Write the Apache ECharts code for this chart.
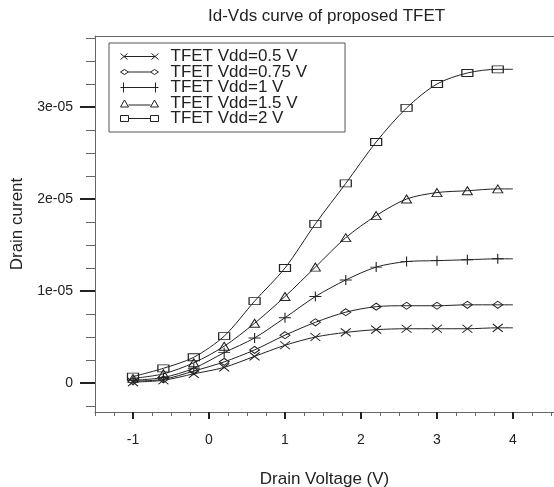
<!DOCTYPE html>
<html>
<head>
<meta charset="utf-8">
<script src="https://cdn.jsdelivr.net/npm/echarts@6/dist/echarts.min.js"></script>
<style>
  html, body { margin: 0; padding: 0; background: #fff; }
  #chart { width: 554px; height: 487px; }
</style>
</head>
<body>
<div id="chart"></div>
<script>
// drain voltage (V); markers drawn up to 3.8, curve runs to 4
const vds = [-1, -0.6, -0.2, 0.2, 0.6, 1.0, 1.4, 1.8, 2.2, 2.6, 3.0, 3.4, 3.8, 4.0];

// drain current, in units of 1e-05
const idVdd05  = [0.01, 0.03, 0.10, 0.17, 0.29, 0.41, 0.50, 0.55, 0.58, 0.59, 0.59, 0.59, 0.60, 0.60];
const idVdd075 = [0.02, 0.04, 0.13, 0.23, 0.36, 0.52, 0.66, 0.77, 0.83, 0.84, 0.84, 0.85, 0.85, 0.85];
const idVdd1   = [0.03, 0.06, 0.16, 0.33, 0.49, 0.71, 0.94, 1.12, 1.26, 1.32, 1.33, 1.34, 1.35, 1.35];
const idVdd15  = [0.05, 0.10, 0.22, 0.40, 0.65, 0.94, 1.26, 1.58, 1.82, 2.00, 2.07, 2.09, 2.11, 2.11];
const idVdd2   = [0.07, 0.16, 0.28, 0.51, 0.89, 1.25, 1.73, 2.17, 2.62, 2.99, 3.25, 3.37, 3.41, 3.41];

const seriesNames = ['TFET Vdd=0.5 V', 'TFET Vdd=0.75 V', 'TFET Vdd=1 V', 'TFET Vdd=1.5 V', 'TFET Vdd=2 V'];

// tick positions
const xMajorTicks = [-1, 0, 1, 2, 3, 4];
const xMinorTicks = [-1.5, -1.25, -0.75, -0.5, -0.25, 0.25, 0.5, 0.75, 1.25, 1.5, 1.75,
  2.25, 2.5, 2.75, 3.25, 3.5, 3.75, 4.25, 4.5];
const yMajorTicks = [0, 1, 2, 3];
const yMinorTicks = [-0.25, 0.25, 0.5, 0.75, 1.25, 1.5, 1.75, 2.25, 2.5, 2.75, 3.25, 3.5, 3.75];

const SCALE = 1e-5;
const FONT = 'Liberation Sans, Arial, sans-serif';
const INK = '#222';

const chart = echarts.init(document.getElementById('chart'));

const markers = [
  { symbol: 'path://M0,0L10,10M0,10L10,0', size: [10, 8] },
  { symbol: 'diamond', size: [10, 7] },
  { symbol: 'path://M0,5L10,5M5,0L5,10', size: [12, 10] },
  { symbol: 'triangle', size: [10, 8] },
  { symbol: 'rect', size: [11, 7] }
];

// legend icons: short line with a marker at each end
const box = 'M0,0L0,0M38,10L38,10';
const legendIcons = [
  'path://' + box + 'M0,2L7,8M0,8L7,2M3.5,5L34.5,5M31,2L38,8M31,8L38,2',
  'path://' + box + 'M0,5L4,2.5L8,5L4,7.5ZM8,5L30,5M30,5L34,2.5L38,5L34,7.5Z',
  'path://' + box + 'M0,5L38,5M3,0L3,10M35,0L35,10',
  'path://' + box + 'M0,9L4,2L8,9ZM8,7L30,7M30,9L34,2L38,9Z',
  'path://' + box + 'M0,2H8V8H0ZM8,5H30M30,2H38V8H30Z'
];

const allValues = [idVdd05, idVdd075, idVdd1, idVdd15, idVdd2];

const series = allValues.map((vals, i) => ({
  name: seriesNames[i],
  type: 'line',
  smooth: 0.3,
  showSymbol: true,
  showAllSymbol: true,
  symbol: markers[i].symbol,
  symbolSize: (val) => (val[0] >= 4 ? 0 : markers[i].size),
  lineStyle: { color: INK, width: 1 },
  itemStyle: { color: 'transparent', borderColor: INK, borderWidth: 1 },
  emphasis: { disabled: true },
  animation: false,
  data: vds.map((x, k) => [x, vals[k] * SCALE])
}));

const option = {
  backgroundColor: '#fff',
  textStyle: { fontFamily: FONT },
  title: {
    text: 'Id-Vds curve of proposed TFET',
    left: 203,
    top: 3,
    textStyle: { fontFamily: FONT, fontSize: 17, fontWeight: 'normal', color: INK }
  },
  legend: {
    orient: 'vertical',
    left: 109,
    top: 43,
    padding: [5, 38, 5, 11],
    itemGap: -1.5,
    itemWidth: 38,
    itemHeight: 10,
    borderColor: '#555',
    borderWidth: 1,
    data: seriesNames.map((n, i) => ({ name: n, icon: legendIcons[i] })),
    itemStyle: { color: 'transparent', borderColor: INK, borderWidth: 1 },
    textStyle: { fontFamily: FONT, fontSize: 17, lineHeight: 15, color: INK, padding: [0, 0, 0, 7] }
  },
  grid: { left: 95, top: 36, right: 0, bottom: 75, containLabel: false, outerBoundsMode: 'none' },
  xAxis: [
    {
      type: 'value',
      min: -1.5,
      max: 4.54,
      position: 'bottom',
      axisLine: { show: true, onZero: false, lineStyle: { color: '#666', width: 1 } },
      axisTick: { show: true, customValues: xMajorTicks, length: 7, lineStyle: { color: INK, width: 2 } },
      axisLabel: {
        show: true, customValues: xMajorTicks, margin: 21,
        fontFamily: FONT, fontSize: 14, color: INK
      },
      splitLine: { show: false },
      name: 'Drain Voltage (V)',
      nameLocation: 'middle',
      nameGap: 59,
      nameTextStyle: { fontFamily: FONT, fontSize: 17, color: INK }
    },
    {
      type: 'value',
      min: -1.5,
      max: 4.54,
      position: 'bottom',
      axisLine: { show: false, onZero: false },
      axisTick: { show: true, customValues: xMinorTicks, length: 4, lineStyle: { color: '#666', width: 1 } },
      axisLabel: { show: false },
      splitLine: { show: false }
    },
    {
      type: 'value',
      min: -1.5,
      max: 4.54,
      position: 'top',
      axisLine: { show: true, onZero: false, lineStyle: { color: '#666', width: 1 } },
      axisTick: { show: false },
      axisLabel: { show: false },
      splitLine: { show: false }
    }
  ],
  yAxis: [
    {
      type: 'value',
      min: -0.315 * SCALE,
      max: 3.772 * SCALE,
      position: 'left',
      axisLine: { show: true, onZero: false, lineStyle: { color: '#666', width: 1 } },
      axisTick: { show: true, customValues: yMajorTicks.map(v => v * SCALE), length: 15, lineStyle: { color: INK, width: 2 } },
      axisLabel: {
        show: true, customValues: yMajorTicks.map(v => v * SCALE), margin: 22,
        fontFamily: FONT, fontSize: 14, color: INK,
        formatter: (v) => {
          const n = Math.round(v / SCALE);
          return n === 0 ? '0' : n + 'e-05';
        }
      },
      splitLine: { show: false },
      name: 'Drain curent',
      nameLocation: 'middle',
      nameRotate: 90,
      nameGap: 67,
      nameTextStyle: { fontFamily: FONT, fontSize: 17, color: INK }
    },
    {
      type: 'value',
      min: -0.315 * SCALE,
      max: 3.772 * SCALE,
      position: 'left',
      axisLine: { show: false, onZero: false },
      axisTick: { show: true, customValues: yMinorTicks.map(v => v * SCALE), length: 9, lineStyle: { color: '#666', width: 1 } },
      axisLabel: { show: false },
      splitLine: { show: false }
    }
  ],
  series: series
};

chart.setOption(option);
</script>
</body>
</html>
